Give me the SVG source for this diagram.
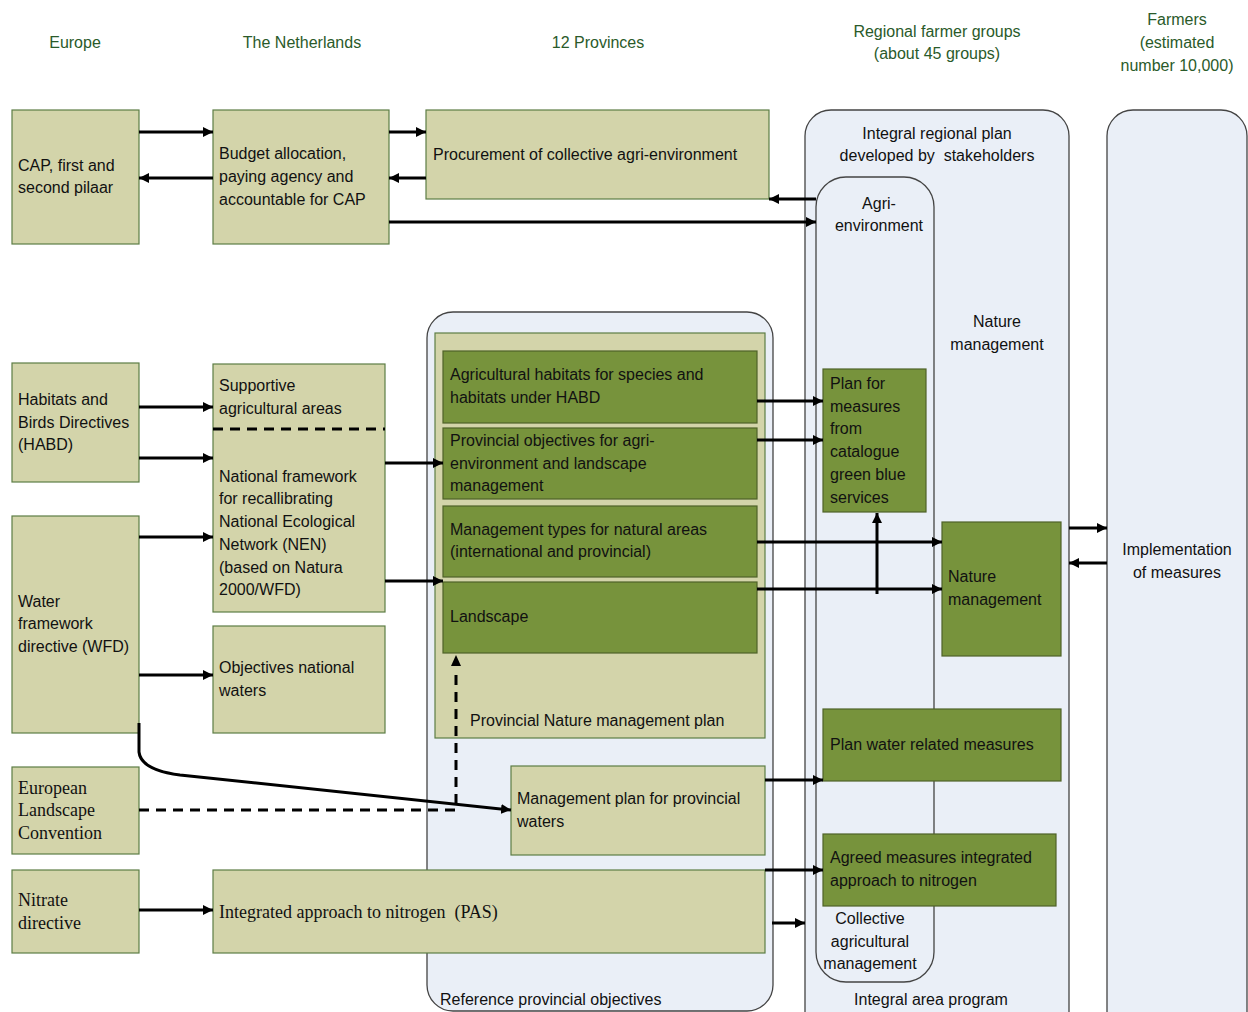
<svg xmlns="http://www.w3.org/2000/svg" width="1248" height="1012" viewBox="0 0 1248 1012">
<defs>
<marker id="ah" viewBox="0 0 10 10" refX="10" refY="5" markerWidth="10" markerHeight="11" markerUnits="userSpaceOnUse" orient="auto">
<path d="M0,0 L10,5 L0,10 z" fill="#000"/>
</marker>
<style>
.hd{font-family:"Liberation Sans",Arial,sans-serif;font-size:16px;fill:#2a5a2a;text-anchor:middle}
.t{font-family:"Liberation Sans",Arial,sans-serif;font-size:16px;fill:#111}
.tm{font-family:"Liberation Sans",Arial,sans-serif;font-size:16px;fill:#111;text-anchor:middle}
.s{font-family:"Liberation Serif","Times New Roman",serif;font-size:18px;fill:#111}
.tan{fill:#d3d4aa;stroke:#5d7d45;stroke-width:1.2}
.grn{fill:#77933c;stroke:#4f6228;stroke-width:1.2}
.cont{fill:#eaeff7;stroke:#444;stroke-width:1.3}
.c{stroke:#000;stroke-width:3;fill:none}
.ca{stroke:#000;stroke-width:3;fill:none;marker-end:url(#ah)}
.d{stroke:#000;stroke-width:3;fill:none;stroke-dasharray:10,7}
</style>
</defs>
<rect width="1248" height="1012" fill="#fff"/>

<g id="headers">
<text class="hd" x="75" y="48">Europe</text>
<text class="hd" x="302" y="48">The Netherlands</text>
<text class="hd" x="598" y="48">12 Provinces</text>
<text class="hd" x="937" y="37">Regional farmer groups</text>
<text class="hd" x="937" y="59">(about 45 groups)</text>
<text class="hd" x="1177" y="25">Farmers</text>
<text class="hd" x="1177" y="48">(estimated</text>
<text class="hd" x="1177" y="71">number 10,000)</text>
</g>

<g id="integral-area-program">
<rect class="cont" x="805" y="110" width="264" height="930" rx="26"/>
<text class="tm" x="937" y="139">Integral regional plan</text>
<text class="tm" x="937" y="161">developed by&#160; stakeholders</text>
<text class="tm" x="997" y="327">Nature</text>
<text class="tm" x="997" y="350">management</text>
<text class="tm" x="931" y="1005">Integral area program</text>
</g>
<g id="agri-environment">
<rect class="cont" x="816" y="177" width="118" height="805" rx="30"/>
<text class="tm" x="879" y="209">Agri-</text>
<text class="tm" x="879" y="231">environment</text>
<text class="tm" x="870" y="924">Collective</text>
<text class="tm" x="870" y="947">agricultural</text>
<text class="tm" x="870" y="969">management</text>
</g>
<g id="farmers">
<rect class="cont" x="1107" y="110" width="140" height="930" rx="26"/>
<text class="tm" x="1177" y="555">Implementation</text>
<text class="tm" x="1177" y="578">of measures</text>
</g>
<g id="reference-provincial-objectives">
<rect class="cont" x="427" y="312" width="346" height="699" rx="26"/>
<text class="t" x="440" y="1005">Reference provincial objectives</text>
</g>
<g id="provincial-nature-plan">
<rect class="tan" x="435" y="333" width="330" height="405"/>
<text class="t" x="470" y="726">Provincial Nature management plan</text>
</g>

<g id="cap">
<rect class="tan" x="12" y="110" width="127" height="134"/>
<text class="t" x="18" y="171">CAP, first and</text>
<text class="t" x="18" y="193">second pilaar</text>
</g>
<g id="budget">
<rect class="tan" x="213" y="110" width="176" height="134"/>
<text class="t" x="219" y="159">Budget allocation,</text>
<text class="t" x="219" y="182">paying agency and</text>
<text class="t" x="219" y="205">accountable for CAP</text>
</g>
<g id="procurement">
<rect class="tan" x="426" y="110" width="343" height="89"/>
<text class="t" x="433" y="160">Procurement of collective agri-environment</text>
</g>
<g id="habd">
<rect class="tan" x="12" y="363" width="127" height="119"/>
<text class="t" x="18" y="405">Habitats and</text>
<text class="t" x="18" y="428">Birds Directives</text>
<text class="t" x="18" y="450">(HABD)</text>
</g>
<g id="national-framework">
<rect class="tan" x="213" y="364" width="172" height="248"/>
<text class="t" x="219" y="391">Supportive</text>
<text class="t" x="219" y="414">agricultural areas</text>
<text class="t" x="219" y="482">National framework</text>
<text class="t" x="219" y="504">for recallibrating</text>
<text class="t" x="219" y="527">National Ecological</text>
<text class="t" x="219" y="550">Network (NEN)</text>
<text class="t" x="219" y="573">(based on Natura</text>
<text class="t" x="219" y="595">2000/WFD)</text>
</g>
<g id="wfd">
<rect class="tan" x="12" y="516" width="127" height="217"/>
<text class="t" x="18" y="607">Water</text>
<text class="t" x="18" y="629">framework</text>
<text class="t" x="18" y="652">directive (WFD)</text>
</g>
<g id="objectives-waters">
<rect class="tan" x="213" y="626" width="172" height="107"/>
<text class="t" x="219" y="673">Objectives national</text>
<text class="t" x="219" y="696">waters</text>
</g>
<g id="elc">
<rect class="tan" x="12" y="767" width="127" height="87"/>
<text class="s" x="18" y="794">European</text>
<text class="s" x="18" y="816">Landscape</text>
<text class="s" x="18" y="839">Convention</text>
</g>
<g id="nitrate">
<rect class="tan" x="12" y="870" width="127" height="83"/>
<text class="s" x="18" y="906">Nitrate</text>
<text class="s" x="18" y="929">directive</text>
</g>
<g id="pas">
<rect class="tan" x="213" y="870" width="552" height="83"/>
<text class="s" x="219" y="918">Integrated approach to nitrogen&#160; (PAS)</text>
</g>
<g id="mgmt-plan-waters">
<rect class="tan" x="511" y="766" width="254" height="89"/>
<text class="t" x="517" y="804">Management plan for provincial</text>
<text class="t" x="517" y="827">waters</text>
</g>

<g id="agri-habitats">
<rect class="grn" x="443" y="351" width="314" height="72"/>
<text class="t" x="450" y="380">Agricultural habitats for species and</text>
<text class="t" x="450" y="403">habitats under HABD</text>
</g>
<g id="prov-objectives">
<rect class="grn" x="443" y="428" width="314" height="71"/>
<text class="t" x="450" y="446">Provincial objectives for agri-</text>
<text class="t" x="450" y="469">environment and landscape</text>
<text class="t" x="450" y="491">management</text>
</g>
<g id="management-types">
<rect class="grn" x="443" y="506" width="314" height="71"/>
<text class="t" x="450" y="535">Management types for natural areas</text>
<text class="t" x="450" y="557">(international and provincial)</text>
</g>
<g id="landscape">
<rect class="grn" x="443" y="582" width="314" height="71"/>
<text class="t" x="450" y="622">Landscape</text>
</g>
<g id="plan-measures">
<rect class="grn" x="823" y="369" width="103" height="143"/>
<text class="t" x="830" y="389">Plan for</text>
<text class="t" x="830" y="412">measures</text>
<text class="t" x="830" y="434">from</text>
<text class="t" x="830" y="457">catalogue</text>
<text class="t" x="830" y="480">green blue</text>
<text class="t" x="830" y="503">services</text>
</g>
<g id="nature-management">
<rect class="grn" x="942" y="522" width="119" height="134"/>
<text class="t" x="948" y="582">Nature</text>
<text class="t" x="948" y="605">management</text>
</g>
<g id="plan-water">
<rect class="grn" x="823" y="709" width="238" height="72"/>
<text class="t" x="830" y="750">Plan water related measures</text>
</g>
<g id="agreed-measures">
<rect class="grn" x="823" y="834" width="233" height="72"/>
<text class="t" x="830" y="863">Agreed measures integrated</text>
<text class="t" x="830" y="886">approach to nitrogen</text>
</g>

<g id="connectors">
<line class="ca" x1="139" y1="132" x2="213" y2="132"/>
<line class="ca" x1="213" y1="178" x2="139" y2="178"/>
<line class="ca" x1="389" y1="132" x2="426" y2="132"/>
<line class="ca" x1="426" y1="178" x2="389" y2="178"/>
<line class="ca" x1="816" y1="199" x2="769" y2="199"/>
<line class="ca" x1="389" y1="222" x2="816" y2="222"/>
<line class="ca" x1="139" y1="407" x2="213" y2="407"/>
<line class="ca" x1="139" y1="458" x2="213" y2="458"/>
<line class="d" x1="213" y1="429" x2="385" y2="429"/>
<line class="ca" x1="139" y1="537" x2="213" y2="537"/>
<line class="ca" x1="139" y1="675" x2="213" y2="675"/>
<line class="ca" x1="385" y1="463" x2="443" y2="463"/>
<line class="ca" x1="385" y1="581" x2="443" y2="581"/>
<line class="ca" x1="757" y1="401" x2="823" y2="401"/>
<line class="ca" x1="757" y1="440" x2="823" y2="440"/>
<line class="ca" x1="757" y1="542" x2="942" y2="542"/>
<line class="ca" x1="757" y1="589" x2="942" y2="589"/>
<line class="ca" x1="877" y1="594" x2="877" y2="513"/>
<line class="ca" x1="1069" y1="528" x2="1107" y2="528"/>
<line class="ca" x1="1107" y1="563" x2="1069" y2="563"/>
<path class="ca" d="M139,723 L139,752 Q141,770 180,775 L511,810"/>
<path class="d" d="M139,810 L456,810 L456,668"/>
<path d="M451,666 L456,655 L461,666 z" fill="#000"/>
<line class="ca" x1="139" y1="910" x2="213" y2="910"/>
<line class="ca" x1="765" y1="780" x2="823" y2="780"/>
<line class="ca" x1="765" y1="870" x2="823" y2="870"/>
<line class="ca" x1="772" y1="923" x2="805" y2="923"/>
</g>
</svg>
